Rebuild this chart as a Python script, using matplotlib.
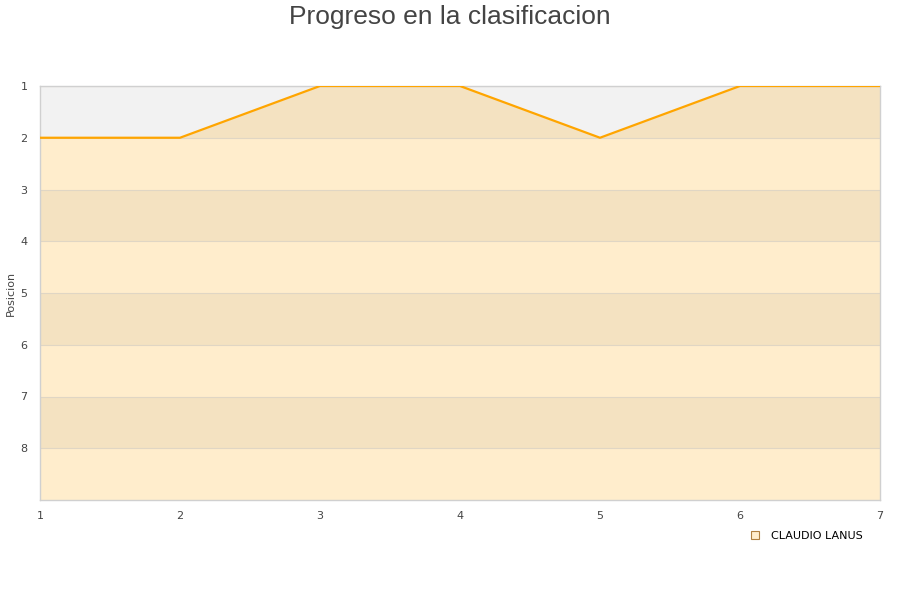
import matplotlib
matplotlib.use("Agg")
import matplotlib.pyplot as plt
from matplotlib.lines import Line2D

rounds = [1, 2, 3, 4, 5, 6, 7]
positions = [2, 2, 1, 1, 2, 1, 1]
series_name = "CLAUDIO LANUS"
y_ticks = [1, 2, 3, 4, 5, 6, 7, 8]

fig = plt.figure(figsize=(9, 6), dpi=100)
ax = fig.add_axes([40/900, 1-500/600, 840/900, 414/600])

# alternating bands
for k in range(1, 9):
    ax.axhspan(k, k+1, color="#f2f2f2" if k % 2 == 1 else "#ffffff", zorder=0, lw=0)

ax.fill_between(rounds, positions, 9, color="#ffa500", alpha=0.2, lw=0, zorder=1)
ax.plot(rounds, positions, color="#ffa500", lw=1.6, zorder=3)

for k in y_ticks:
    ax.axhline(k, color="#e0d6c4", lw=0.8, zorder=2)

ax.set_xlim(1, 7)
ax.set_ylim(9, 1)
ax.set_yticks(y_ticks)
ax.set_xticks(rounds)
ax.tick_params(axis="both", length=0, labelsize=8, colors="#444444")
ax.tick_params(axis="y", pad=9)
ax.tick_params(axis="x", pad=8)
for s in ax.spines.values():
    s.set_color("#d0d0d0")
    s.set_linewidth(1)

ax.set_ylabel("Posicion", fontsize=8, color="#444444")
ax.yaxis.set_label_coords(-24/840, 0.5)
fig.text(0.5, 1-17/600, "Progreso en la clasificacion", fontsize=19, color="#444444",
         ha="center", va="center", family=["Liberation Sans", "DejaVu Sans"])

handle = Line2D([], [], marker="s", ls="none", markersize=6,
                markerfacecolor="#ffedcc", markeredgecolor="#b08040", markeredgewidth=0.8)
fig.legend([handle], [series_name], loc="center right", bbox_to_anchor=(0.97, 1-536/600),
           frameon=False, fontsize=8, handletextpad=0.5)

fig.savefig("out.png", dpi=100)
